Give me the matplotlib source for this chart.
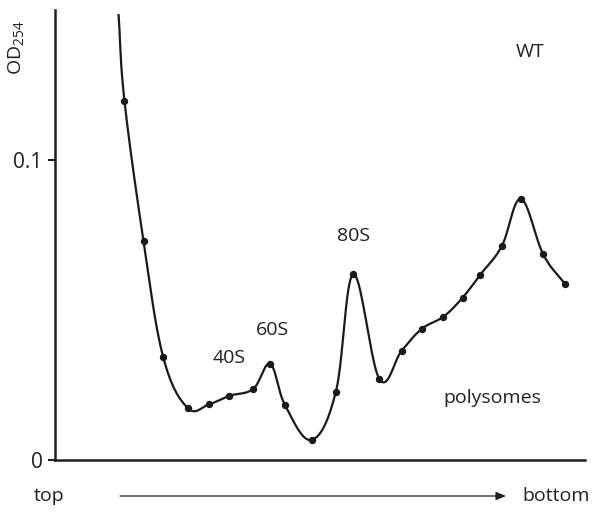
import numpy as np
import matplotlib
matplotlib.use('Agg')
import matplotlib.pyplot as plt

# Gradient position (% from top) and OD254 readings
position = [12.0, 13.1, 16.7, 20.4, 25.0, 29.1, 32.9, 37.4, 40.6, 43.4, 48.4,
            53.0, 56.3, 61.2, 65.4, 69.2, 73.3, 76.9, 80.2, 84.3, 87.9, 92.1, 96.2]
od254 = [0.1483, 0.1198, 0.0730, 0.0344, 0.0174, 0.0186, 0.0214, 0.0237, 0.0320,
         0.0183, 0.0067, 0.0228, 0.0619, 0.0270, 0.0364, 0.0437, 0.0478, 0.0541,
         0.0617, 0.0713, 0.0870, 0.0686, 0.0587]
peak_labels = ["40S", "60S", "80S"]
peak_label_pos = [(32.9, 0.034), (41.0, 0.0433), (56.3, 0.0747)]
yticks = [0, 0.1]
ytick_labels = ["0", "0.1"]

plt.rcParams['font.family'] = ['Open Sans', 'DejaVu Sans']
plt.rcParams['mathtext.default'] = 'regular'

fig = plt.figure(figsize=(5.95, 5.16), dpi=100)
ax = fig.add_axes([55/595, 1-460/516, 530/595, 450/516])
ax.set_xlim(0, 100)
ax.set_ylim(0, 0.15)

# smooth curve (Bezier / Catmull-Rom) computed in display space
P = ax.transData.transform(np.column_stack([position, od254]))
n = len(P)
ext = np.vstack([2*P[0]-P[1], P, 2*P[-1]-P[-2]])
pts = []
t = np.linspace(0, 1, 40)[:, None]
k = 1/5.5
for i in range(n - 1):
    p0, p1, p2, p3 = ext[i], ext[i+1], ext[i+2], ext[i+3]
    c1 = p1 + (p2 - p0) * k
    c2 = p2 - (p3 - p1) * k
    seg = ((1-t)**3)*p1 + 3*((1-t)**2)*t*c1 + 3*(1-t)*t**2*c2 + t**3*p2
    pts.append(seg)
curve = ax.transData.inverted().transform(np.vstack(pts))
ax.plot(curve[:, 0], curve[:, 1], color='#1a1a1a', lw=1.6, clip_on=False)
ax.plot(position[1:], od254[1:], 'o', color='#1a1a1a', ms=4.3, clip_on=False)

fs = 14
for lab, (x, y) in zip(peak_labels, peak_label_pos):
    ax.text(x, y, lab, ha='center', va='center', fontsize=fs, color='#231f20')
ax.text(89.6, 0.1360, "WT", ha='center', va='center', fontsize=fs, color='#231f20')
ax.text(82.5, 0.0207, "polysomes", ha='center', va='center', fontsize=fs, color='#231f20')

for s in ['top', 'right']:
    ax.spines[s].set_visible(False)
for s in ['left', 'bottom']:
    ax.spines[s].set_linewidth(1.8)
    ax.spines[s].set_color('#231f20')
ax.set_xticks([])
ax.set_yticks(yticks)
ax.set_yticklabels(ytick_labels, fontsize=15, color='#231f20')
ax.tick_params(axis='y', length=5, width=1.5, color='#231f20', pad=4)

fig.text(16/595, 1-48/516, r'OD$_{254}$', rotation=90, ha='center', va='center',
         fontsize=fs, color='#231f20')
fig.text(49/595, 1-496/516, 'top', ha='center', va='center', fontsize=fs, color='#231f20')
fig.text(556/595, 1-496/516, 'bottom', ha='center', va='center', fontsize=fs, color='#231f20')
fig.add_artist(matplotlib.patches.FancyArrowPatch((120/595, 1-496/516), (506/595, 1-496/516),
               transform=fig.transFigure, arrowstyle='-|>,head_length=6,head_width=2.5',
               lw=0.9, color='#231f20', shrinkA=0, shrinkB=0))

fig.savefig('out.png', dpi=100)
